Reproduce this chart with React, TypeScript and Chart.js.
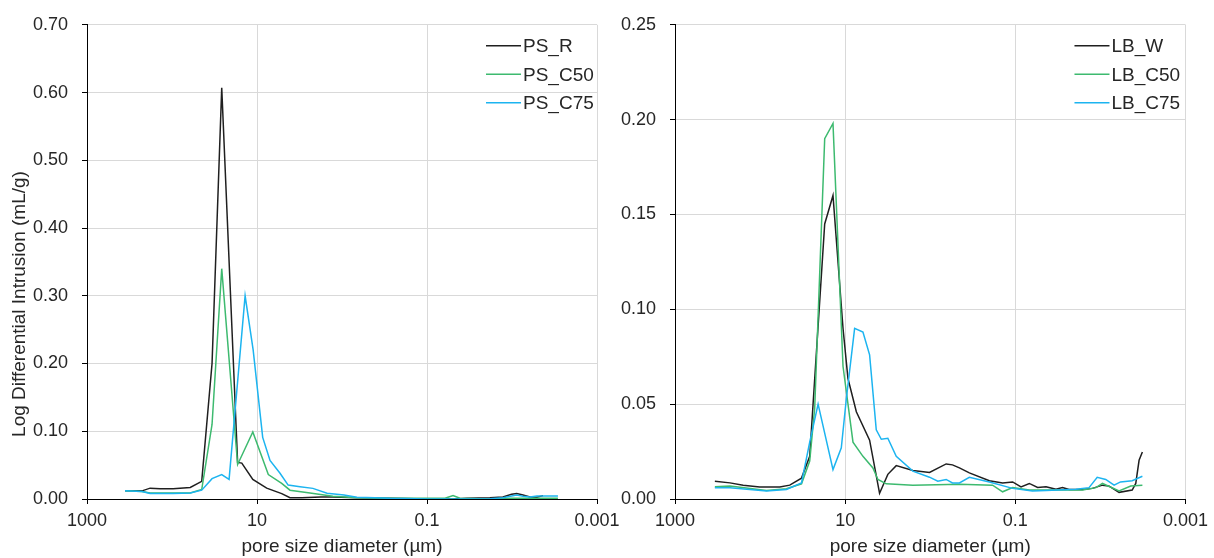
import React, { useEffect, useRef } from 'react';
import { Chart, registerables } from 'chart.js';

Chart.register(...registerables);

// ---------- shared ticks ----------
const xTickValues = [1000, 10, 0.1, 0.001];
const xTitle = 'pore size diameter (µm)';
const yTitle = 'Log Differential Intrusion (mL/g)';

// ---------- left panel (PS) ----------
const psLabels = ['PS_R', 'PS_C50', 'PS_C75'];
const psYMax = 0.7;
const psYStep = 0.1;

const psR_d = [357, 225, 181, 138, 97, 61, 44.7, 33.8, 26, 16.9, 15.1, 11.2, 7.69, 5.12, 4.09, 2.96, 1.77, 1.28, 0.667, 0.272, 0.1, 0.0494, 0.0338, 0.0182, 0.0128, 0.0101, 0.0088, 0.00743, 0.00614, 0.00508, 0.00432];
const psR_v = [0.012, 0.012, 0.016, 0.015, 0.015, 0.017, 0.026, 0.2, 0.607, 0.054, 0.053, 0.029, 0.016, 0.008, 0.002, 0.002, 0.003, 0.003, 0.002, 0.001, 0.0, 0.0, 0.001, 0.002, 0.003, 0.007, 0.008, 0.006, 0.003, 0.0025, 0.005];

const psC50_d = [357, 225, 181, 97, 61, 44.7, 33.8, 26, 16.9, 11.2, 7.36, 5.12, 4.09, 2.38, 1.28, 0.667, 0.272, 0.131, 0.0614, 0.0494, 0.0409, 0.0182, 0.0101, 0.00614, 0.00288];
const psC50_v = [0.012, 0.011, 0.009, 0.009, 0.009, 0.014, 0.11, 0.34, 0.051, 0.099, 0.036, 0.023, 0.013, 0.009, 0.004, 0.002, 0.001, 0.001, 0.001, 0.005, 0.001, 0.0, 0.001, 0.001, 0.001];

const psC75_d = [357, 225, 181, 97, 61, 44.7, 33.8, 26, 21.3, 13.8, 11.1, 8.57, 7.03, 5.36, 4.3, 3.12, 2.2, 1.5, 0.947, 0.667, 0.409, 0.272, 0.131, 0.1, 0.0338, 0.0182, 0.0128, 0.0101, 0.0088, 0.00743, 0.00614, 0.00508, 0.00432, 0.00288];
const psC75_v = [0.012, 0.011, 0.008, 0.008, 0.009, 0.013, 0.03, 0.036, 0.029, 0.3, 0.22, 0.091, 0.057, 0.038, 0.0205, 0.018, 0.0157, 0.0084, 0.006, 0.0025, 0.002, 0.001, 0.0005, 0.0, 0.0, 0.0005, 0.002, 0.0045, 0.006, 0.004, 0.003, 0.0045, 0.0045, 0.0045];

// ---------- right panel (LB) ----------
const lbLabels = ['LB_W', 'LB_C50', 'LB_C75'];
const lbYMax = 0.25;
const lbYStep = 0.05;

const lbW_d = [340, 226, 158, 101, 58.7, 44.8, 32.6, 26.1, 17.4, 13.9, 10.6, 9.27, 7.39, 5.16, 3.94, 3.15, 2.51, 1.6, 1.02, 0.65, 0.548, 0.454, 0.347, 0.202, 0.141, 0.1076, 0.0857, 0.0685, 0.0547, 0.0436, 0.0333, 0.0279, 0.0233, 0.0162, 0.0124, 0.00946, 0.00789, 0.00603, 0.00423, 0.00384, 0.00351, 0.00321];
const lbW_v = [0.0094, 0.0085, 0.0072, 0.0063, 0.0063, 0.0073, 0.011, 0.0225, 0.145, 0.16, 0.09, 0.0635, 0.046, 0.031, 0.003, 0.013, 0.0176, 0.015, 0.014, 0.0185, 0.018, 0.0164, 0.0138, 0.0096, 0.0085, 0.009, 0.0064, 0.0082, 0.0061, 0.0064, 0.0052, 0.006, 0.005, 0.005, 0.0056, 0.0073, 0.0068, 0.0035, 0.0047, 0.0082, 0.0204, 0.0248];

const lbC50_d = [340, 226, 84, 49, 32.6, 26.1, 22.8, 17.4, 13.9, 10.6, 8.09, 6.18, 4.72, 4.12, 3.29, 1.6, 0.454, 0.185, 0.141, 0.1076, 0.0685, 0.0436, 0.0162, 0.0113, 0.00946, 0.00603, 0.0044, 0.00321];
const lbC50_v = [0.0064, 0.0068, 0.0045, 0.0054, 0.008, 0.02, 0.048, 0.19, 0.198, 0.07, 0.03, 0.0225, 0.0164, 0.0103, 0.008, 0.0072, 0.0078, 0.0073, 0.0038, 0.006, 0.0047, 0.0047, 0.0047, 0.006, 0.0082, 0.0043, 0.0068, 0.0073];

const lbC75_d = [340, 226, 84, 49, 32.6, 26.1, 20.8, 13.9, 11.1, 9.68, 7.74, 6.18, 5.16, 4.31, 3.76, 3.15, 2.51, 1.6, 1.02, 0.815, 0.65, 0.548, 0.454, 0.347, 0.202, 0.1076, 0.0629, 0.0436, 0.0194, 0.0136, 0.0109, 0.00866, 0.0069, 0.0058, 0.00423, 0.00321];
const lbC75_v = [0.0059, 0.0059, 0.0042, 0.005, 0.0085, 0.03, 0.05, 0.0155, 0.027, 0.053, 0.09, 0.088, 0.076, 0.0365, 0.0315, 0.032, 0.0225, 0.0147, 0.0115, 0.0094, 0.0103, 0.0085, 0.0085, 0.0114, 0.009, 0.0056, 0.0042, 0.0045, 0.0051, 0.006, 0.0114, 0.0103, 0.0073, 0.009, 0.0096, 0.012];

// ---------- styling ----------
const seriesColors = ['#1f1f1f', '#3dba6f', '#1cb4f0'];
const textColor = '#262626';
const gridColor = '#d9d9d9';
const fontFamily = "'Liberation Sans', Arial, sans-serif";

const toPoints = (d: number[], v: number[]) => d.map((x, i) => ({ x, y: v[i] }));

const insideLegend = {
  id: 'insideLegend',
  afterDraw(chart: any) {
    const { ctx, chartArea } = chart;
    const textX = chartArea.right - 74;
    chart.data.datasets.forEach((ds: any, i: number) => {
      const y = chartArea.top + 21 + i * 28.5;
      ctx.save();
      ctx.strokeStyle = ds.borderColor;
      ctx.lineWidth = 1.5;
      ctx.beginPath();
      ctx.moveTo(textX - 37, y);
      ctx.lineTo(textX - 2, y);
      ctx.stroke();
      ctx.fillStyle = textColor;
      ctx.font = `19px ${fontFamily}`;
      ctx.textAlign = 'left';
      ctx.textBaseline = 'middle';
      ctx.fillText(ds.label, textX, y + 1);
      ctx.restore();
    });
  },
};

const sideTitle = {
  id: 'sideTitle',
  afterDraw(chart: any, _args: any, opts: any) {
    if (!opts || !opts.text) return;
    const { ctx } = chart;
    ctx.save();
    ctx.translate(opts.x, opts.y);
    ctx.rotate(-Math.PI / 2);
    ctx.fillStyle = textColor;
    ctx.font = `19px ${fontFamily}`;
    ctx.textAlign = 'center';
    ctx.textBaseline = 'middle';
    ctx.fillText(opts.text, 0, 0);
    ctx.restore();
  },
};

type PanelProps = {
  width: number;
  left: number;
  labels: string[];
  ds: { d: number[]; v: number[] }[];
  yMax: number;
  yStep: number;
  yAxisWidth: number;
  rightPad: number;
  showYTitle: boolean;
};

function Panel(p: PanelProps) {
  const ref = useRef<HTMLCanvasElement | null>(null);
  useEffect(() => {
    if (!ref.current) return;
    const chart = new Chart(ref.current, {
      type: 'line',
      data: {
        datasets: p.ds.map((s, i) => ({
          label: p.labels[i],
          data: toPoints(s.d, s.v),
          borderColor: seriesColors[i],
          backgroundColor: seriesColors[i],
          borderWidth: 1.5,
          pointRadius: 0,
          tension: 0,
          fill: false,
          order: 3 - i,
        })),
      },
      options: {
        animation: false,
        responsive: false,
        maintainAspectRatio: false,
        events: [],
        layout: { padding: { left: 0, right: p.rightPad, top: 23, bottom: 0 } },
        plugins: {
          legend: { display: false },
          tooltip: { enabled: false },
          sideTitle: p.showYTitle ? { text: yTitle, x: 20, y: 304 } : { text: '' },
        } as any,
        scales: {
          x: {
            type: 'logarithmic',
            reverse: true,
            min: 0.001,
            max: 1000,
            afterBuildTicks: (axis: any) => {
              axis.ticks = xTickValues.map((v) => ({ value: v }));
            },
            afterFit: (axis: any) => {
              axis.height = 59;
            },
            ticks: {
              callback: (v: any) => String(v),
              autoSkip: false,
              maxRotation: 0,
              minRotation: 0,
              padding: 6,
              color: textColor,
              font: { family: fontFamily, size: 18 },
            },
            grid: { color: gridColor, tickColor: '#000', tickLength: 5, lineWidth: 1 },
            border: { color: '#000', width: 1 },
            title: {
              display: true,
              text: xTitle,
              color: textColor,
              font: { family: fontFamily, size: 19 },
              padding: { top: 0, bottom: 0 },
            },
          },
          y: {
            type: 'linear',
            min: 0,
            max: p.yMax,
            afterFit: (axis: any) => {
              axis.width = p.yAxisWidth;
            },
            ticks: {
              stepSize: p.yStep,
              callback: (v: any) => Number(v).toFixed(2),
              padding: 14,
              color: textColor,
              font: { family: fontFamily, size: 18 },
            },
            grid: { color: gridColor, tickColor: '#000', tickLength: 5, lineWidth: 1 },
            border: { color: '#000', width: 1 },
          },
        } as any,
      },
      plugins: [insideLegend, sideTitle],
    } as any);
    return () => chart.destroy();
  }, []);
  return (
    <canvas
      ref={ref}
      width={p.width}
      height={558}
      style={{ position: 'absolute', left: p.left, top: 0, width: p.width, height: 558 }}
    />
  );
}

export default function App() {
  return (
    <div style={{ position: 'absolute', left: 0, top: 0, width: 1214, height: 558, background: '#fff', overflow: 'hidden' }}>
      <Panel
        width={640}
        left={0}
        labels={psLabels}
        ds={[
          { d: psR_d, v: psR_v },
          { d: psC50_d, v: psC50_v },
          { d: psC75_d, v: psC75_v },
        ]}
        yMax={psYMax}
        yStep={psYStep}
        yAxisWidth={87}
        rightPad={43}
        showYTitle={true}
      />
      <Panel
        width={607}
        left={607}
        labels={lbLabels}
        ds={[
          { d: lbW_d, v: lbW_v },
          { d: lbC50_d, v: lbC50_v },
          { d: lbC75_d, v: lbC75_v },
        ]}
        yMax={lbYMax}
        yStep={lbYStep}
        yAxisWidth={68}
        rightPad={21}
        showYTitle={false}
      />
    </div>
  );
}
